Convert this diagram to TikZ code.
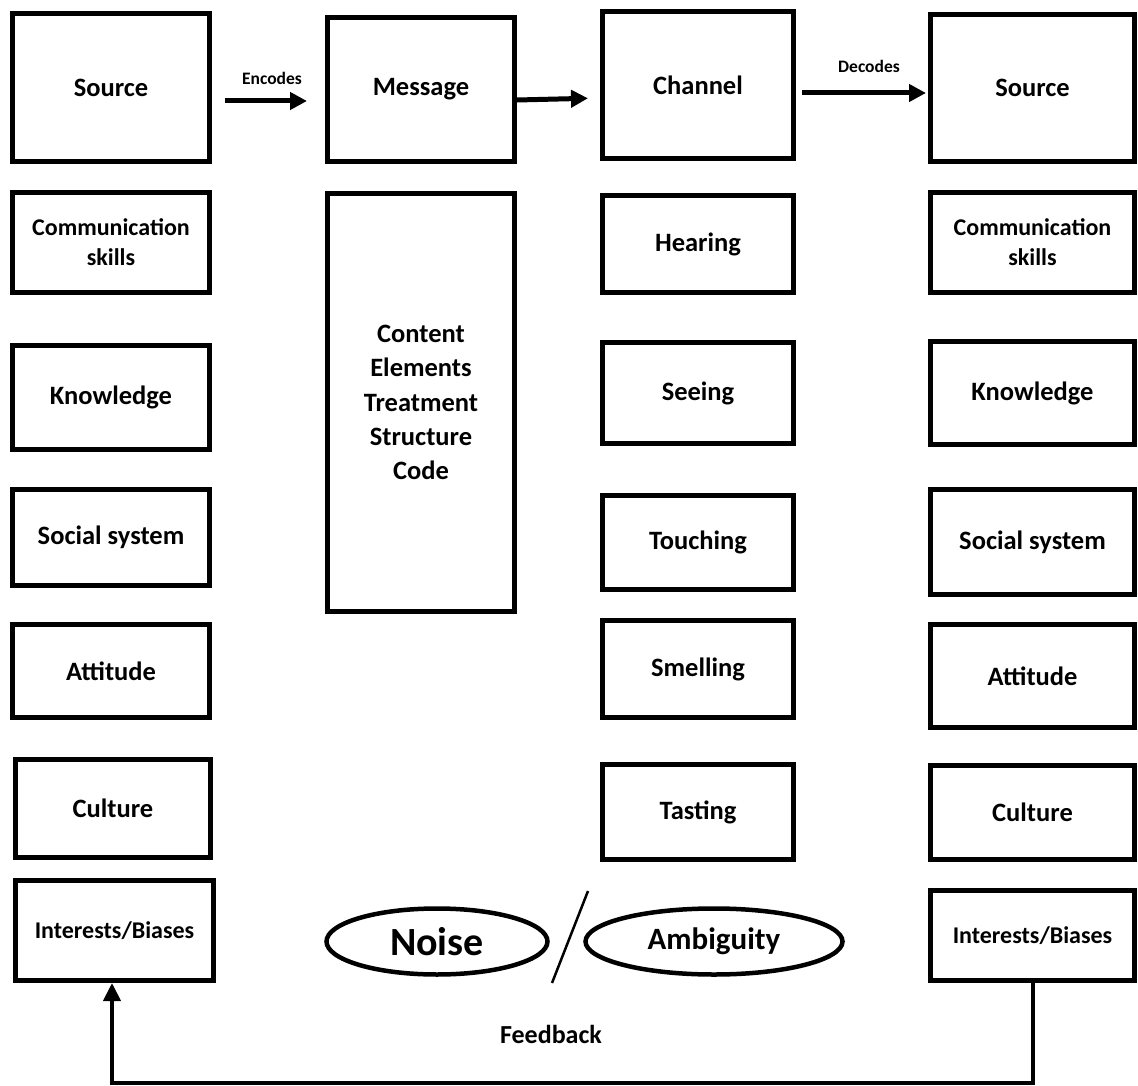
\documentclass[tikz,border=0pt]{standalone}
\usepackage{fontspec}
\setmainfont{Carlito}
\usetikzlibrary{arrows.meta,shapes.geometric}
\begin{document}
\begin{tikzpicture}[x=1pt,y=-1pt,
  bx/.style={draw=black,line width=5pt,rectangle,inner sep=0pt,align=center,
    font=\fontsize{26.5}{32}\selectfont\bfseries},
  cs/.style={font=\fontsize{24}{30}\selectfont\bfseries},
  ib/.style={font=\fontsize{24}{28}\selectfont\bfseries},
  ov/.style={draw=black,line width=4.5pt,ellipse,inner sep=0pt},
  arr/.style={line width=5pt,-{Triangle[length=17pt,width=17pt]}},
  lbl/.style={font=\fontsize{17.5}{20}\selectfont\bfseries},
  ]
\useasboundingbox[fill=white] (0,0) rectangle (1138,1086);
% left column
\node[bx,minimum width=197,minimum height=148] (lsrc) at (111,87.5) {Source};
\node[bx,cs,minimum width=197,minimum height=100] (lcom) at (111,242.5) {Communication\\skills};
\node[bx,minimum width=197,minimum height=104] (lkno) at (111,397.5) {Knowledge};
\node[bx,minimum width=197,minimum height=96] (lsoc) at (111,537.5) {Social system};
\node[bx,minimum width=197,minimum height=93] (latt) at (111,671) {Attitude};
\node[bx,minimum width=195,minimum height=98] (lcul) at (113,808.5) {Culture};
\node[bx,ib,minimum width=198,minimum height=100] (lint) at (114.5,930.5) {Interests/Biases};
% message column
\node[bx,minimum width=187,minimum height=144] (msg) at (421,89.5) {Message};
\node[bx,minimum width=187,minimum height=418,font=\fontsize{26.5}{34.3}\selectfont\bfseries] (cont) at (421,402.5) {Content\\Elements\\Treatment\\Structure\\Code};
% channel column
\node[bx,minimum width=191,minimum height=147] (chan) at (698,85) {Channel};
\node[bx,minimum width=191,minimum height=97] (hear) at (698,244) {Hearing};
\node[bx,minimum width=191,minimum height=101] (seei) at (698,393) {Seeing};
\node[bx,minimum width=191,minimum height=94] (touc) at (698,542.5) {Touching};
\node[bx,minimum width=191,minimum height=97] (smel) at (698,669) {Smelling};
\node[bx,minimum width=191,minimum height=95] (tast) at (698,812) {Tasting};
% right column
\node[bx,minimum width=204,minimum height=147] (rsrc) at (1032.5,88) {Source};
\node[bx,cs,minimum width=204,minimum height=100] (rcom) at (1032.5,242.5) {Communication\\skills};
\node[bx,minimum width=204,minimum height=103] (rkno) at (1032.5,393) {Knowledge};
\node[bx,minimum width=204,minimum height=105] (rsoc) at (1032.5,542) {Social system};
\node[bx,minimum width=204,minimum height=103] (ratt) at (1032.5,676) {Attitude};
\node[bx,minimum width=204,minimum height=94] (rcul) at (1032.5,812.5) {Culture};
\node[bx,ib,minimum width=204,minimum height=90] (rint) at (1032.5,935.5) {Interests/Biases};
% noise / ambiguity
\node[ov,minimum width=221,minimum height=66,font=\fontsize{40}{42}\selectfont\bfseries] (noise) at (437,941.5) {Noise};
\node[ov,minimum width=257,minimum height=66,font=\fontsize{31}{34}\selectfont\bfseries] (amb) at (714,941.5) {Ambiguity};
\coordinate (sl1) at (552,983);
\coordinate (sl2) at (588,891);
\draw[line width=2.5pt] (sl1) -- (sl2);
% arrows
\draw[arr,shorten <=13pt,shorten >=18pt] (lsrc.east |- 0,101) -- (msg.west |- 0,101);
\node[lbl] (enc) at (272,78) {Encodes};
\draw[arr,shorten >=12pt] (msg.east |- 0,100) -- (chan.west |- 0,98);
\draw[arr,shorten <=6pt,shorten >=2pt] (chan.east |- 0,93) -- (rsrc.west |- 0,93);
\node[lbl] (dec) at (869,66) {Decodes};
% feedback
\coordinate (fb1) at (1034,1083);
\coordinate (fb2) at (112,1083);
\draw[line width=4pt,-{Triangle[length=18pt,width=17pt]},line join=miter] (rint.south) -- (rint.south |- fb1) -- (fb2) -- (lint.south -| fb2);
\node[font=\fontsize{26}{30}\selectfont\bfseries] (fbl) at (551,1034) {Feedback};
\end{tikzpicture}
\end{document}
